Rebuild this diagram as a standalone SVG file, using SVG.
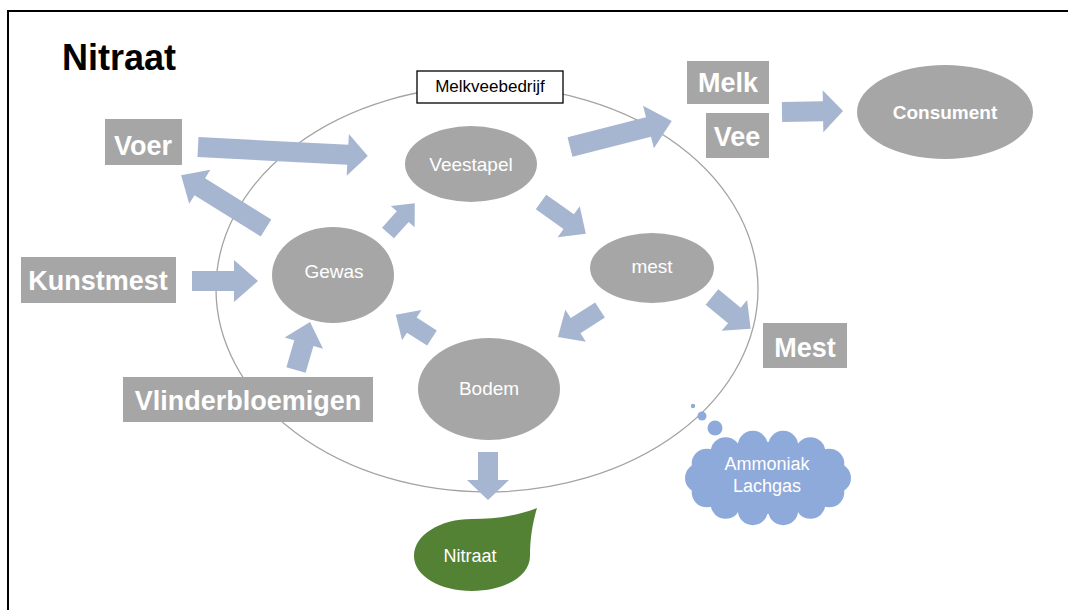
<svg xmlns="http://www.w3.org/2000/svg" width="1068" height="610" viewBox="0 0 1068 610">
  <style>
    .frame { fill: none; stroke: #000; stroke-width: 2; }
    .farm { fill: none; stroke: #a3a3a3; stroke-width: 1.3; }
    .node { fill: #a6a6a6; }
    .box { fill: #a6a6a6; }
    .arrow { fill: #a6b5d0; }
    .lbl { font-family: "Liberation Sans", Arial, sans-serif; fill: #fff; text-anchor: middle; }
    .big { font-size: 27px; font-weight: bold; }
    .mid { font-size: 19px; }
    .title { font-family: "Liberation Sans", Arial, sans-serif; font-size: 36px; font-weight: bold; fill: #000; }
    .tag { font-family: "Liberation Sans", Arial, sans-serif; font-size: 17px; fill: #000; }
  </style>

  <rect width="1068" height="610" fill="#fff"/>
  <rect class="frame" x="8" y="11" width="1100" height="700"/>

  <text class="title" x="62" y="70">Nitraat</text>

  <!-- farm boundary -->
  <g id="melkveebedrijf">
    <ellipse class="farm" cx="487" cy="289" rx="271" ry="203"/>
    <rect x="417" y="71" width="146" height="32" fill="#fff" stroke="#000" stroke-width="1.3"/>
    <text class="tag" x="490" y="92" text-anchor="middle">Melkveebedrijf</text>
  </g>

  <!-- connectors: block arrows, drawn tail at origin pointing +x -->
  <g id="connectors">
    <path class="arrow" transform="translate(198,147) rotate(3)" d="M0,-10 L150,-10 L150,-21 L170,0 L150,21 L150,10 L0,10Z"/>
    <path class="arrow" transform="translate(266,228) rotate(-148.1)" d="M0,-10 L78,-10 L78,-20 L100,0 L78,20 L78,10 L0,10Z"/>
    <path class="arrow" transform="translate(192,281)" d="M0,-10 L42,-10 L42,-21 L66,0 L42,21 L42,10 L0,10Z"/>
    <path class="arrow" transform="translate(296,370) rotate(-73.7)" d="M0,-10 L28,-10 L28,-20 L50,0 L28,20 L28,10 L0,10Z"/>
    <path class="arrow" transform="translate(388,233) rotate(-48)" d="M0,-8 L22,-8 L22,-16 L40,0 L22,16 L22,8 L0,8Z"/>
    <path class="arrow" transform="translate(541,202) rotate(35.4)" d="M0,-9 L34,-9 L34,-19 L55,0 L34,19 L34,9 L0,9Z"/>
    <path class="arrow" transform="translate(600,310) rotate(147.3)" d="M0,-9 L29,-9 L29,-19 L50,0 L29,19 L29,9 L0,9Z"/>
    <path class="arrow" transform="translate(432,338) rotate(-147.4)" d="M0,-9 L24,-9 L24,-18 L43,0 L24,18 L24,9 L0,9Z"/>
    <path class="arrow" transform="translate(712,297) rotate(39.4)" d="M0,-10 L29,-10 L29,-20 L50,0 L29,20 L29,10 L0,10Z"/>
    <path class="arrow" transform="translate(570,147) rotate(-14.3)" d="M0,-10 L81,-10 L81,-22 L105,0 L81,22 L81,10 L0,10Z"/>
    <path class="arrow" transform="translate(782,112) rotate(-0.9)" d="M0,-10 L41,-10 L41,-21 L61,0 L41,21 L41,10 L0,10Z"/>
    <path class="arrow" transform="translate(488,452) rotate(90)" d="M0,-10 L28,-10 L28,-21 L48,0 L28,21 L28,10 L0,10Z"/>
  </g>

  <g id="veestapel">
    <ellipse class="node" cx="471" cy="164" rx="66" ry="38"/>
    <text class="lbl mid" x="471" y="171">Veestapel</text>
  </g>
  <g id="gewas">
    <ellipse class="node" cx="333" cy="275" rx="61" ry="48"/>
    <text class="lbl mid" x="334" y="278">Gewas</text>
  </g>
  <g id="mest">
    <ellipse class="node" cx="652" cy="268" rx="62" ry="35"/>
    <text class="lbl mid" x="652" y="273">mest</text>
  </g>
  <g id="bodem">
    <ellipse class="node" cx="489" cy="389" rx="71" ry="51"/>
    <text class="lbl mid" x="489" y="395">Bodem</text>
  </g>
  <g id="consument">
    <ellipse class="node" cx="945" cy="112" rx="88" ry="47"/>
    <text class="lbl" x="945" y="119" font-size="19" font-weight="bold">Consument</text>
  </g>

  <g id="voer">
    <rect class="box" x="105" y="119" width="77" height="46"/>
    <text class="lbl big" x="143" y="155">Voer</text>
  </g>
  <g id="kunstmest">
    <rect class="box" x="21" y="257" width="155" height="46"/>
    <text class="lbl big" x="98" y="290">Kunstmest</text>
  </g>
  <g id="vlinderbloemigen">
    <rect class="box" x="123" y="377" width="250" height="45"/>
    <text class="lbl big" x="248" y="410">Vlinderbloemigen</text>
  </g>
  <g id="melk">
    <rect class="box" x="687" y="61" width="82" height="43"/>
    <text class="lbl big" x="728" y="92">Melk</text>
  </g>
  <g id="vee">
    <rect class="box" x="706" y="113" width="63" height="45"/>
    <text class="lbl big" x="737" y="146">Vee</text>
  </g>
  <g id="mest-afvoer">
    <rect class="box" x="763" y="323" width="84" height="45"/>
    <text class="lbl big" x="805" y="357">Mest</text>
  </g>

  <!-- emissions cloud with thought bubbles -->
  <g id="emissie" fill="#8eaadb">
    <circle cx="693" cy="406" r="2.2"/>
    <circle cx="702" cy="416" r="4.5"/>
    <circle cx="715" cy="428" r="7.5"/>
    <ellipse cx="768" cy="478" rx="70" ry="36"/>
    <circle cx="836" cy="478" r="15"/>
    <circle cx="829.3" cy="492.3" r="15"/>
    <circle cx="810.4" cy="503.8" r="15"/>
    <circle cx="783.2" cy="510.2" r="15"/>
    <circle cx="752.8" cy="510.2" r="15"/>
    <circle cx="725.6" cy="503.8" r="15"/>
    <circle cx="706.7" cy="492.3" r="15"/>
    <circle cx="700" cy="478" r="15"/>
    <circle cx="706.7" cy="463.7" r="15"/>
    <circle cx="725.6" cy="452.2" r="15"/>
    <circle cx="752.8" cy="445.8" r="15"/>
    <circle cx="783.2" cy="445.8" r="15"/>
    <circle cx="810.4" cy="452.2" r="15"/>
    <circle cx="829.3" cy="463.7" r="15"/>
    <text class="lbl" x="767" y="470" font-size="18">Ammoniak</text>
    <text class="lbl" x="767" y="492" font-size="18">Lachgas</text>
  </g>

  <!-- leached nitrate leaf -->
  <g id="nitraat">
    <path fill="#548235" d="M414,556 C414,535 440,519 472,519 C497,519 520,515 537,508 C532,525 530,540 530,556 C530,576 505,591 472,591 C440,591 414,576 414,556 Z"/>
    <text class="lbl" x="470" y="562" font-size="18">Nitraat</text>
  </g>
</svg>
